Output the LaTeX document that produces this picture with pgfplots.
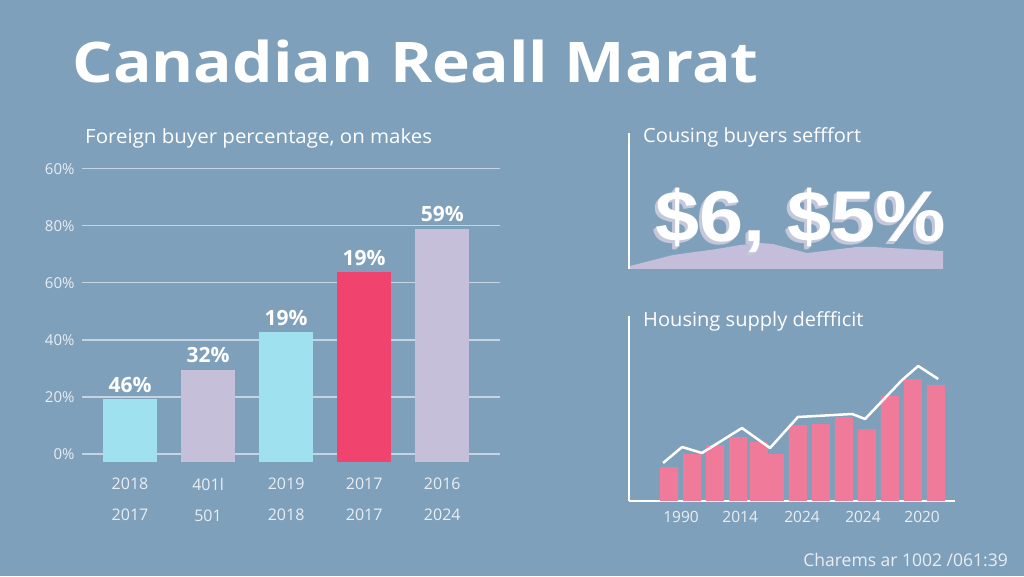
\documentclass[border=0pt]{standalone}
\usepackage{pgfplots}
\pgfplotsset{compat=1.18}
\usepackage{fontspec}
\setmainfont{Open Sans}
\newfontfamily\bigfont{Liberation Sans}
\definecolor{bg}{HTML}{7FA0BB}
\definecolor{cyanbar}{HTML}{A0E1F0}
\definecolor{lavbar}{HTML}{C6BFD9}
\definecolor{redbar}{HTML}{F0436E}
\definecolor{pinkbar}{HTML}{F07A9A}
\definecolor{lavarea}{HTML}{C5BEDA}
\definecolor{extr}{HTML}{C4C8DA}
\definecolor{lbl}{HTML}{E8EEF3}
\begin{document}
\begin{tikzpicture}[x=1pt,y=1pt]
\useasboundingbox (0,0) rectangle (1024,576);
\fill[bg] (0,0) rectangle (1024,576);
\node[anchor=base west, inner sep=0, text=white, font=\bfseries\fontsize{56}{60}\selectfont, xscale=1.145] at (72,493) {Canadian Reall Marat};
\node[anchor=base west, inner sep=0, text=white, font=\fontsize{19.5}{22}\selectfont, xscale=1.05] at (85,432) {Foreign buyer percentage, on makes};
\node[anchor=base west, inner sep=0, text=white, font=\fontsize{19.5}{22}\selectfont, xscale=1.03] at (643,433) {Cousing buyers sefffort};
\node[anchor=base west, inner sep=0, text=white, font=\fontsize{19.5}{22}\selectfont, xscale=1.03] at (643,250) {Housing supply deffficit};
\node[anchor=base east, inner sep=0, text=lbl, font=\fontsize{17.5}{18}\selectfont] at (1008,10) {Charems ar 1002 /061:39};

% left bar chart
\begin{axis}[
  at={(82pt,108pt)}, anchor=south west, scale only axis,
  width=418pt, height=299.25pt,
  xmin=-0.615, xmax=4.74, ymin=-5, ymax=100,
  y coord trafo/.code={\pgfmathparse{#1+2.8}},
  y coord inv trafo/.code={\pgfmathparse{#1-2.8}},
  axis line style={draw=none}, tick style={draw=none},
  ytick={0,20,40,60,80,100}, yticklabels={0\%,20\%,40\%,60\%,80\%,60\%},
  xtick={0,1,2,3,4},
  xticklabels={{2018\\2017},{401l\\501},{2019\\2018},{2017\\2017},{2016\\2024}},
  xticklabel style={align=center, font=\fontsize{16}{31}\selectfont, text=lbl, yshift=-6.5pt},
  yticklabel style={font=\fontsize{15}{16}\selectfont, text=lbl, xshift=-4pt},
  ymajorgrids, grid style={white, opacity=0.55, line width=1.5pt},
  point meta=explicit symbolic,
  nodes near coords,
  every node near coord/.append style={font=\bfseries\fontsize{21}{22}\selectfont, text=white, yshift=3pt},
  bar width=54pt,
]
\addplot[ybar, bar shift=0pt, fill=cyanbar, draw=none] coordinates {(0,19.3) [46\%]};
\addplot[ybar, bar shift=0pt, fill=lavbar, draw=none] coordinates {(1,29.5) [32\%]};
\addplot[ybar, bar shift=0pt, fill=cyanbar, draw=none] coordinates {(2,42.8) [19\%]};
\addplot[ybar, bar shift=0pt, fill=redbar, draw=none] coordinates {(3,63.6) [19\%]};
\addplot[ybar, bar shift=0pt, fill=lavbar, draw=none] coordinates {(4,79.0) [59\%]};
\end{axis}

% top right area chart
\begin{axis}[
  at={(629pt,307pt)}, anchor=south west, scale only axis,
  width=315pt, height=136pt,
  xmin=0, xmax=315, ymin=0, ymax=136,
  axis x line=none, axis y line=left,
  axis line style={white, line width=1.5pt, -},
  xtick=\empty, ytick=\empty,
]
\addplot[fill=lavarea, draw=none] coordinates {(1,3) (44,14) (88,20) (111,24) (131,26) (144,25) (178,16) (228,22) (244,22) (314,18)} \closedcycle;
\end{axis}
\foreach \d in {4,3,2,1}{
  \node[anchor=base west, inner sep=0, text=extr, font=\bigfont\bfseries\fontsize{72}{72}\selectfont, xscale=1.1] at (655-0.7*\d,334-0.6*\d) {\$6, \$5\%};
}
\node[anchor=base west, inner sep=0, text=white, font=\bigfont\bfseries\fontsize{72}{72}\selectfont, xscale=1.1] at (655,334) {\$6, \$5\%};

% bottom right bar+line chart
\begin{axis}[
  at={(629pt,75pt)}, anchor=south west, scale only axis,
  width=326pt, height=185pt,
  xmin=-1.74, xmax=12.43, ymin=0, ymax=185,
  axis x line=bottom, axis y line=left,
  axis line style={white, line width=1.5pt, -},
  tick style={draw=none}, ytick=\empty,
  xtick={0.52,3.09,5.78,8.43,11.0},
  xticklabels={1990,2014,2024,2024,2020},
  xticklabel style={font=\fontsize{15.5}{16}\selectfont, text=lbl, yshift=-5pt},
  bar width=18pt,
]
\addplot[ybar, bar shift=0pt, fill=pinkbar, draw=none] coordinates {(0,34) (1,47) (2,56) (3,64) (3.9,59) (4.6,47) (5.6,76) (6.6,77) (7.6,84) (8.6,72) (9.6,105) (10.6,122) (11.6,116)};
\addplot[white, line width=2.5pt, sharp plot, line join=round, mark=none] coordinates {(-0.26,38) (0.57,54) (1.43,48) (3.17,73) (4.39,53) (5.6,84) (7.96,87) (8.52,82) (10.13,121) (10.83,135) (11.7,122)};
\end{axis}
\end{tikzpicture}
\end{document}
